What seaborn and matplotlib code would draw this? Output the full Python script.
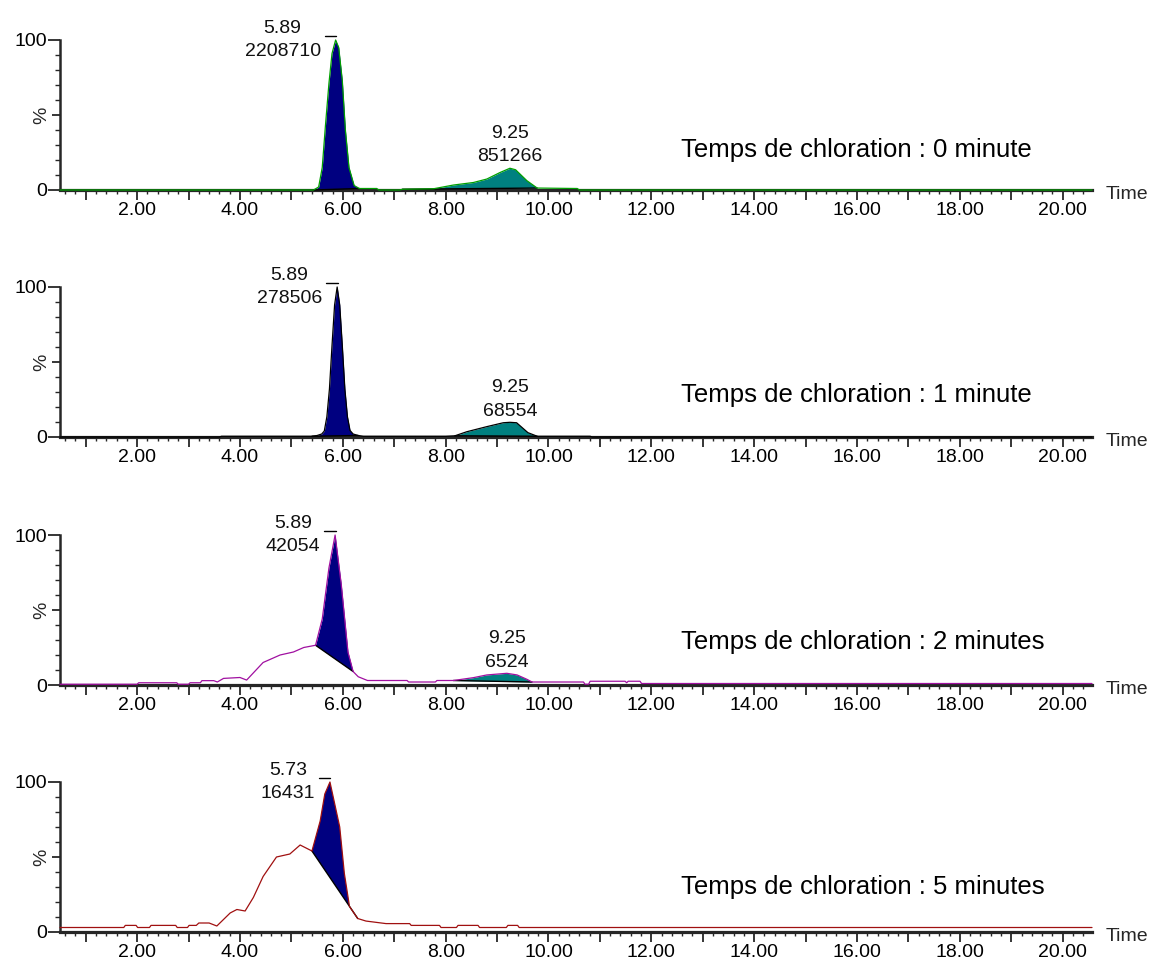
import numpy as np
import matplotlib
matplotlib.use("Agg")
import matplotlib.pyplot as plt
from matplotlib.ticker import MultipleLocator, FixedLocator, FuncFormatter
import seaborn as sns

# chromatogram traces (time in min, signal in %)
times_0min = [0.50, 5.43, 5.53, 5.60, 5.66, 5.73, 5.79, 5.86, 5.92, 5.99, 6.05, 6.12, 6.22, 6.32,
              6.66, 6.70, 7.10, 7.16, 7.76, 8.15, 8.54, 8.80, 9.06, 9.25, 9.36, 9.58, 9.78,
              10.56, 10.60, 20.57]
signal_0min = [0, 0, 2, 15, 42, 71, 91, 100, 95, 73, 40, 15, 3, 1,
               1, 0, 0, 0.5, 0.8, 3.3, 5, 7.3, 11.7, 14.5, 13.5, 6.2, 1.3,
               1, 0, 0]

times_1min = [0.50, 3.60, 3.64, 5.40, 5.50, 5.59, 5.64, 5.69, 5.74, 5.79, 5.84, 5.89, 5.94, 5.99,
              6.04, 6.09, 6.14, 6.20, 6.30, 6.40, 8.00, 8.18, 8.41, 8.80, 9.12, 9.25, 9.38,
              9.60, 9.78, 10.81, 10.85, 20.57]
signal_1min = [0, 0, 0.5, 0.5, 1, 2, 4, 13.5, 32, 61, 88, 100, 88, 61,
               32, 13.5, 4.4, 2, 1, 0.5, 0.5, 0.8, 3.5, 6.9, 9.5, 9.8, 9.5,
               2.9, 0.5, 0.5, 0, 0]

times_2min = [0.50, 2.00, 2.03, 2.77, 2.80, 3.00, 3.03, 3.23, 3.26, 3.49, 3.56, 3.68, 4.00, 4.13,
              4.45, 4.78, 5.04, 5.24, 5.47, 5.60, 5.73, 5.85, 5.97, 6.10, 6.20, 6.30, 6.48,
              7.25, 7.28, 7.80, 7.83, 8.15, 8.54, 8.80, 9.19, 9.39, 9.58, 9.68, 10.68, 10.71,
              10.78, 10.81, 11.49, 11.52, 11.55, 11.78, 11.81, 20.57]
signal_2min = [0.5, 0.5, 1.5, 1.5, 0.5, 0.5, 1.5, 1.5, 2.9, 2.9, 2.0, 4.4, 5.0, 3.3,
               15, 20, 22, 25, 26.5, 44, 78, 100, 67, 22, 9, 5.5, 3,
               3, 2, 2, 3, 3, 4.9, 6.7, 7.8, 6.7, 3.8, 2, 2, 0.5,
               0.5, 2.5, 2.5, 1.5, 2.5, 2.5, 1, 1]

times_5min = [0.50, 1.74, 1.77, 1.98, 2.01, 2.24, 2.27, 2.75, 2.78, 2.98, 3.01, 3.15, 3.20, 3.40,
              3.55, 3.81, 3.94, 4.10, 4.26, 4.45, 4.71, 4.97, 5.17, 5.40, 5.56, 5.65, 5.75,
              5.94, 6.03, 6.13, 6.29, 6.45, 6.84, 7.30, 7.33, 7.88, 7.91, 8.21, 8.24, 8.63,
              8.66, 9.18, 9.21, 9.40, 9.43, 20.57]
signal_5min = [3, 3, 4.4, 4.4, 3, 3, 4.4, 4.4, 3, 3, 4.4, 4.4, 6, 6,
               4, 12.7, 15, 14, 23, 37, 50, 52, 58, 54, 74, 92, 100,
               70, 39, 17, 9, 7.3, 5.6, 5.6, 4.4, 4.4, 3, 3, 4.4, 4.4,
               3, 3, 4.4, 4.4, 3, 3]

traces = [(times_0min, signal_0min), (times_1min, signal_1min),
          (times_2min, signal_2min), (times_5min, signal_5min)]
captions = ["Temps de chloration : 0 minute", "Temps de chloration : 1 minute",
            "Temps de chloration : 2 minutes", "Temps de chloration : 5 minutes"]
trace_colors = ["#00a000", "#000000", "#a010a0", "#a01010"]

# integrated peaks: (start, end) of each window, retention time and area labels
main_windows = [(5.43, 6.32), (5.40, 6.30), (5.47, 6.20), (5.40, 6.29)]
minor_windows = [(7.16, 9.78), (8.18, 9.78), (8.15, 9.68), None]
main_rt = ["5.89", "5.89", "5.89", "5.73"]
main_area = ["2208710", "278506", "42054", "16431"]
minor_rt = ["9.25", "9.25", "9.25", None]
minor_area = ["851266", "68554", "6524", None]

x_ticks_major = 1.0
x_ticks_minor = 0.2
y_ticks = [0, 50, 100]
y_tick_labels = ["0", "", "100"]

NAVY = "#000080"
TEAL = "#008080"

sns.set_style("ticks")
plt.rcParams["font.family"] = ["Liberation Sans", "DejaVu Sans"]

W, H = 1153, 965
fig = plt.figure(figsize=(W / 100, H / 100), dpi=100)
zero_rows = [190, 437, 685, 932]
caption_y = [26.5, 28, 29, 30]


def fill_peak(ax, t, y, window, color):
    a, b = window
    mask = (t >= a) & (t <= b)
    tt, yy = t[mask], y[mask]
    base = np.interp(tt, [tt[0], tt[-1]], [yy[0], yy[-1]])
    ax.fill_between(tt, base, yy, where=yy >= base, interpolate=True,
                    color=color, lw=0, zorder=2)
    ax.plot([tt[0], tt[-1]], [yy[0], yy[-1]], color="black", lw=1.0, zorder=3, clip_on=False)
    k = np.argmax(yy)
    return tt[k], yy[k]


for i, (t, y) in enumerate(traces):
    t = np.array(t)
    y = np.array(y, dtype=float)
    ax = fig.add_axes([60 / W, 1 - zero_rows[i] / H, (1092 - 60) / W, 150 / H])

    apex_t, apex_y = fill_peak(ax, t, y, main_windows[i], NAVY)
    if minor_windows[i] is not None:
        m_t, m_y = fill_peak(ax, t, y, minor_windows[i], TEAL)

    sns.lineplot(x=t, y=y, ax=ax, color=trace_colors[i], lw=0.9,
                 estimator=None, sort=False, zorder=4, clip_on=False)

    # apex marker and labels
    ax.plot([apex_t - 0.21, apex_t + 0.01], [102.7, 102.7], color="black", lw=1.0, clip_on=False)
    ax.annotate(f"{main_rt[i]}\n{main_area[i]}", xy=(apex_t - 0.21, 100),
                xytext=(-3, 0), textcoords="offset points", ha="right", va="center",
                multialignment="center", linespacing=1.5, fontsize=14, color="#111111")
    if minor_windows[i] is not None:
        ax.annotate(f"{minor_rt[i]}\n{minor_area[i]}", xy=(m_t, m_y),
                    xytext=(0, 2), textcoords="offset points", ha="center", va="bottom",
                    multialignment="center", linespacing=1.5, fontsize=14, color="#111111")

    ax.text(12.58, caption_y[i], captions[i], fontsize=18.5, ha="left", va="center", color="black")

    ax.set_xlim(0.5, 20.57)
    ax.set_ylim(0, 100)
    ax.set_xlabel("")
    ax.set_ylabel("")
    for side in ["top", "right"]:
        ax.spines[side].set_visible(False)
    ax.spines["left"].set_linewidth(1.8)
    ax.spines["bottom"].set_linewidth(2.3)

    ax.xaxis.set_major_locator(MultipleLocator(x_ticks_major))
    ax.xaxis.set_minor_locator(MultipleLocator(x_ticks_minor))
    ax.xaxis.set_major_formatter(FuncFormatter(
        lambda v, p: f"{v:.2f}" if int(round(v)) % 2 == 0 else ""))
    ax.tick_params(axis="x", which="major", length=7, width=1.1, direction="out",
                   pad=1.5, labelsize=14, colors="black")
    ax.tick_params(axis="x", which="minor", length=3, width=1.0, direction="out")

    ax.yaxis.set_major_locator(FixedLocator(y_ticks))
    ax.set_yticklabels(y_tick_labels)
    ax.yaxis.set_minor_locator(MultipleLocator(10))
    ax.tick_params(axis="y", which="major", length=8.5, width=1.1, direction="out",
                   pad=0.5, labelsize=14, colors="black")
    ax.tick_params(axis="y", which="minor", length=3.5, width=1.0, direction="out")
    ax.yaxis.get_major_ticks()[1].tick1line.set_markersize(6)

    ax.annotate("%", xy=(0, 50), xycoords=("axes fraction", "data"), xytext=(-13, 0),
                textcoords="offset points", rotation=90, ha="center", va="center", fontsize=14)
    ax.annotate("Time", xy=(1, 0), xycoords="axes fraction", xytext=(9.5, -3),
                textcoords="offset points", ha="left", va="center", fontsize=14)
    ax.patch.set_alpha(0)

fig.savefig("out.png", dpi=100)
